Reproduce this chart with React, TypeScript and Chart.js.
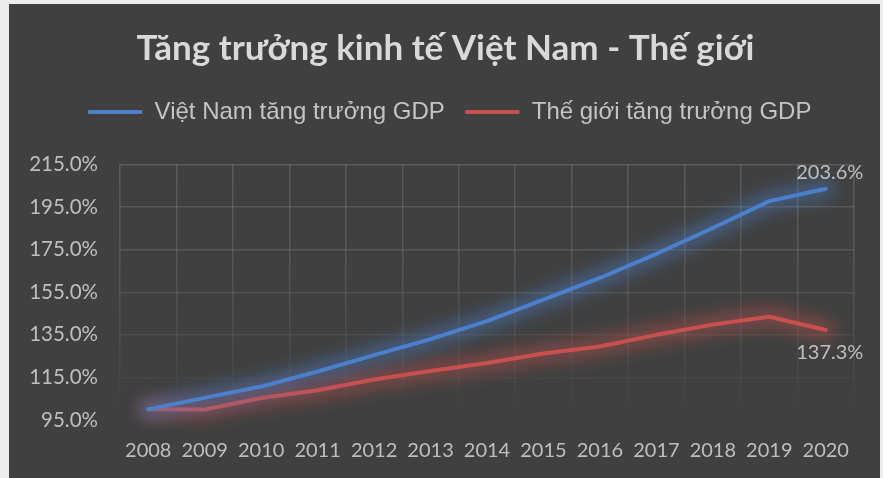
import React, { useEffect, useRef } from "react";
import { Chart, registerables } from "chart.js";

Chart.register(...registerables);

const titleText = "Tăng trưởng kinh tế Việt Nam - Thế giới";
const years = ["2008", "2009", "2010", "2011", "2012", "2013", "2014", "2015", "2016", "2017", "2018", "2019", "2020"];
const vietnamGrowth = [100, 105.4, 110.7, 117.8, 125.5, 133.0, 141.4, 151.5, 161.7, 173.0, 185.2, 197.8, 203.6];
const worldGrowth = [100, 99.9, 105.3, 109.0, 114.0, 118.0, 121.8, 126.2, 129.5, 135.0, 139.8, 143.5, 137.3];
const seriesNames = ["Việt Nam tăng trưởng GDP", "Thế giới tăng trưởng GDP"];
const seriesColors = ["#4c80cc", "#c8504f"];
const glowColors = ["rgba(76,128,204,0.42)", "rgba(200,80,79,0.42)"];
const yMin = 95;
const yMax = 215;
const yStep = 20;

const pct = (v: number) => v.toFixed(1) + "%";

const glowPlugin = {
  id: "glow",
  beforeDatasetDraw(chart: any, args: any) {
    const ctx = chart.ctx;
    const pts = args.meta.data;
    if (!pts || !pts.length) return;
    ctx.save();
    ctx.filter = "blur(8px)";
    ctx.strokeStyle = glowColors[args.index];
    ctx.lineWidth = 20;
    ctx.lineCap = "round";
    ctx.lineJoin = "round";
    ctx.beginPath();
    pts.forEach((p: any, i: number) => {
      if (i === 0) ctx.moveTo(p.x, p.y);
      else ctx.lineTo(p.x, p.y);
    });
    ctx.stroke();
    ctx.restore();
  },
};

const endLabelPlugin = {
  id: "endLabels",
  afterDatasetsDraw(chart: any) {
    const ctx = chart.ctx;
    ctx.save();
    ctx.font = "20px Lato";
    ctx.fillStyle = "#bfbfbf";
    ctx.textAlign = "center";
    ctx.textBaseline = "middle";
    chart.data.datasets.forEach((ds: any, i: number) => {
      const meta = chart.getDatasetMeta(i);
      const last = meta.data[meta.data.length - 1];
      const v = ds.data[ds.data.length - 1];
      const dy = i === 0 ? -16 : 23;
      ctx.fillText(pct(v), last.x + 4, last.y + dy);
    });
    ctx.restore();
  },
};

// the reference legend and title sit a little right of the canvas centre
const shiftPlugin = {
  id: "boxShift",
  afterLayout(chart: any) {
    if (chart.legend) {
      chart.legend.left += 9;
      chart.legend.right += 9;
    }
    if (chart.titleBlock) {
      chart.titleBlock.left += 5;
      chart.titleBlock.right += 5;
    }
  },
};

const gridColor = (c: any) => {
  const area = c.chart.chartArea;
  if (!area) return "rgba(255,255,255,0.12)";
  const g = c.chart.ctx.createLinearGradient(0, area.top, 0, area.bottom);
  g.addColorStop(0, "rgba(255,255,255,0.14)");
  g.addColorStop(0.45, "rgba(255,255,255,0.11)");
  g.addColorStop(0.75, "rgba(255,255,255,0.05)");
  g.addColorStop(1, "rgba(255,255,255,0)");
  return g;
};

export default function App() {
  const ref = useRef<HTMLCanvasElement>(null);

  useEffect(() => {
    const chart = new Chart(ref.current as HTMLCanvasElement, {
      type: "line",
      data: {
        labels: years,
        datasets: [
          {
            label: seriesNames[0],
            data: vietnamGrowth,
            borderColor: seriesColors[0],
            backgroundColor: seriesColors[0],
            borderWidth: 4,
            pointRadius: 0,
            tension: 0,
            borderCapStyle: "round",
            borderJoinStyle: "round",
            clip: false as any,
          },
          {
            label: seriesNames[1],
            data: worldGrowth,
            borderColor: seriesColors[1],
            backgroundColor: seriesColors[1],
            borderWidth: 4,
            pointRadius: 0,
            tension: 0,
            borderCapStyle: "round",
            borderJoinStyle: "round",
            clip: false as any,
          },
        ],
      },
      options: {
        responsive: false,
        animation: false,
        devicePixelRatio: 1,
        layout: { padding: { left: 18, right: 26, top: 0, bottom: 13 } },
        plugins: {
          title: {
            display: true,
            text: titleText,
            color: "#d9d9d9",
            font: { family: "Lato", size: 35, weight: "bold" },
            padding: { top: 23.4, bottom: 10.6 },
          },
          subtitle: {
            display: true,
            text: "",
            weight: 500,
            font: { size: 10, lineHeight: 1 },
            padding: { top: 20.5, bottom: 0 },
          } as any,
          legend: {
            display: true,
            position: "top",
            labels: {
              color: "#c4c4c4",
              font: { family: "'Liberation Sans', Arial, sans-serif", size: 24 },
              boxWidth: 55,
              boxHeight: 4,
              padding: 20,
              generateLabels: (ch: any) =>
                ch.data.datasets.map((ds: any, i: number) => ({
                  text: ds.label,
                  fillStyle: seriesColors[i],
                  strokeStyle: seriesColors[i],
                  lineWidth: 0,
                  borderRadius: 2,
                  fontColor: "#c4c4c4",
                  datasetIndex: i,
                  hidden: false,
                })),
            },
          },
          tooltip: { enabled: false },
        },
        scales: {
          x: {
            offset: true,
            grid: { display: true, offset: true, color: gridColor, lineWidth: 1.5, drawTicks: false },
            border: { display: false },
            ticks: {
              color: "#bfbfbf",
              font: { family: "Lato", size: 20 },
              padding: 19,
              maxRotation: 0,
              autoSkip: false,
            },
            afterFit: (scale: any) => {
              scale.height = 45;
            },
          },
          y: {
            min: yMin,
            max: yMax,
            grid: { color: gridColor, lineWidth: 1.5, drawTicks: false },
            border: { display: false },
            ticks: {
              stepSize: yStep,
              color: "#bfbfbf",
              font: { family: "Lato", size: 20.5 },
              padding: 22,
              callback: (v: any) => pct(Number(v)),
            },
            afterFit: (scale: any) => {
              scale.width = 93;
            },
          },
        },
      },
      plugins: [glowPlugin, endLabelPlugin, shiftPlugin],
    });
    return () => chart.destroy();
  }, []);

  return (
    <div style={{ position: "fixed", inset: 0, background: "#ececec" }}>
      <div
        style={{
          position: "absolute",
          left: 9,
          top: 4,
          width: 871,
          height: 474,
          background: "#404040",
        }}
      >
        <canvas ref={ref} width={871} height={474} style={{ display: "block" }} />
      </div>
    </div>
  );
}
